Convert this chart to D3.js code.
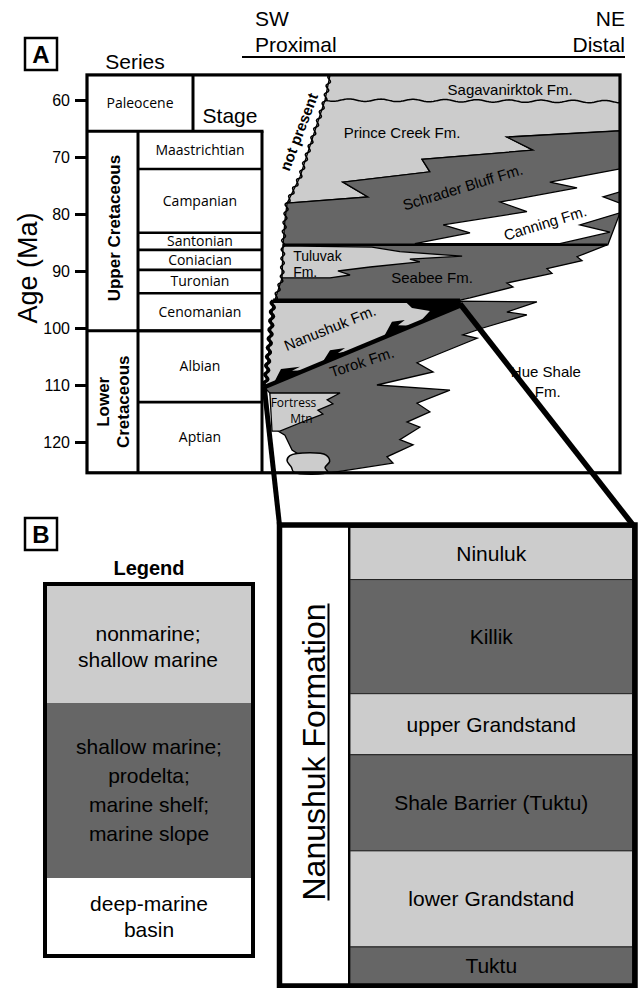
<!DOCTYPE html>
<html><head><meta charset="utf-8">
<script src="https://cdn.jsdelivr.net/npm/d3@7"></script>
<style>
body{margin:0;background:#fff}
svg{display:block}
text{font-family:"Liberation Sans",Arial,Helvetica,sans-serif;fill:#000}
.hum{font-family:"Open Sans","Noto Sans",sans-serif}
</style>
</head><body>
<svg id="c" width="644" height="988"></svg>
<script>
// ---------------- DATA ----------------
const ageTicks = [60, 70, 80, 90, 100, 110, 120];
const chartTopAge = 55.6, chartBaseAge = 125.4;

const seriesNames = ["Paleocene", "Upper Cretaceous", "Lower Cretaceous"];
const seriesTop   = [55.6, 65.5, 100.5];
const seriesBase  = [65.5, 100.5, 125.4];

const stageNames = ["Maastrichtian","Campanian","Santonian","Coniacian","Turonian","Cenomanian","Albian","Aptian"];
const stageTop   = [65.5, 72.1, 83.3, 86.3, 89.8, 93.9, 100.5, 113.0];
const stageBase  = [72.1, 83.3, 86.3, 89.8, 93.9, 100.5, 113.0, 125.4];

// formation outlines: [relative distance SW->NE (0-100), age Ma]
const unconformityEdge = [[19.0,55.6],[17.6,60],[14.2,66.5],[10.6,73.5],[7.0,78.1],[6.4,81.1],[5.9,85.4],[5.6,91.2],[3.6,95.1]];
const nanushukEdge = [[3.1,95.2],[2.2,102.1],[1.1,109.3],[0.6,110.4]];
const sagavanirktokBase = [[17.6,60],[100,60.3]];
const sagavanirktokPrinceCreek = [[19.0,55.6],[100,55.6],[100,65.4],[68.4,66.5],[75.7,68.8],[44.7,70.4],[46.9,72.6],[22.6,74.4],[29.6,77.0],[7.0,78.1],[10.6,73.5],[14.2,66.5],[17.6,60]];
const schraderBluff = [[7.0,78.1],[29.6,77.0],[22.6,74.4],[46.9,72.6],[44.7,70.4],[75.7,68.8],[68.4,66.5],[100,65.4],[100,79.8],[96.6,85.4],[5.9,85.4],[6.4,81.1]];
const canning = [[100,72.1],[80.4,74.4],[88.0,75.4],[66.5,77.9],[74.0,79.6],[50.6,81.9],[58.1,83.3],[42.7,85.2],[83.2,85.2],[97.2,83.2],[88.8,81.9],[100,79.8],[100,78.1],[95.3,77.0],[100,76.1]];
const seabee = [[5.9,85.4],[96.4,85.4],[88.0,87.5],[89.4,88.2],[79.6,89.6],[81.0,90.4],[68.4,92.1],[70.1,92.8],[58.1,94.7],[55.3,95.1],[3.6,95.1],[5.6,91.2]];
const tuluvak = [[5.9,85.6],[30.7,85.8],[38.5,86.6],[55.9,87.4],[41.3,87.9],[44.1,88.4],[30.2,89.3],[21.2,90.0],[24.6,90.7],[19.0,91.2],[5.6,91.2]];
const torok = [[0.6,110.4],[55.3,96.1],[55.3,95.3],[76.8,95.4],[68.4,97.2],[74.0,97.7],[61.7,100],[56.1,101.2],[60.1,101.8],[43.3,106.1],[47.8,107.7],[32.1,110],[52.5,110.9],[43.3,113.2],[46.9,114.7],[40.5,116.5],[44.1,117.4],[38.5,119.6],[42.2,120.5],[34.9,122.6],[36.6,123.7],[19.0,125.4],[10.6,125.4],[10.6,122.3],[8.4,121.4],[6.4,118.8],[4.5,118.1],[2.2,111.4]];
const nanushuk = [[3.1,95.2],[55.3,95.2],[55.3,96.1],[0.6,110.4],[1.1,109.3],[2.2,102.1]];
const nanushukTeeth = [
  [[3.4,109.5],[5.3,107.2],[10.6,106.8],[8.4,107.5],[12.3,107.4]],
  [[16.8,106.1],[19.0,103.9],[23.2,103.5],[21.2,104.4],[25.1,104.0]],
  [[33.8,101.8],[36.3,98.9],[39.9,98.6],[38.0,99.5],[41.9,99.6]],
  [[39.9,95.3],[55.3,95.3],[55.3,96.1],[44.1,98.9],[46.9,97.0],[41.9,96.5]]
];
const fortressMtn = [[2.2,111.4],[21.8,111.4],[18.2,112.6],[19.8,113.3],[15.6,114.4],[17.0,115.1],[12.8,116.1],[5.0,118.1],[2.8,118.1]];
const basalSand = [[7.8,122.4],[13.4,121.9],[17.9,122.3],[18.9,123.4],[17.6,124.5],[18.4,125.3],[8.9,125.3],[8.2,124.4],[7.0,123.3]];
const schraderBase = [[5.9,85.4],[96.4,85.4]];
const nanushukTop = [[3.1,95.2],[55.3,95.2]];
const nanushukBase = [[0.6,110.4],[55.3,96.1]];

const formationLabels = [
  {t:"Sagavanirktok Fm.", d:69.3, a:58.2, r:0},
  {t:"Prince Creek Fm.", d:39.1, a:65.8, r:0},
  {t:"Schrader Bluff Fm.", d:56.1, a:75.3, r:-17},
  {t:"Canning Fm.", d:79.1, a:81.6, r:-17},
  {t:"Seabee Fm.", d:47.5, a:91.1, r:0},
  {t:"Nanushuk Fm.", d:19.0, a:100.0, r:-22},
  {t:"Torok Fm.", d:27.9, a:106.0, r:-18},
  {t:"Hue Shale", d:79.3, a:107.7, r:0},
  {t:"Fm.", d:79.8, a:111.2, r:0}
];
const tuluvakLabel = ["Tuluvak","Fm."];
const fortressLabel = ["Fortress","Mtn"];

// Panel B
const legendLabels = [["nonmarine;","shallow marine"],["shallow marine;","prodelta;","marine shelf;","marine slope"],["deep-marine","basin"]];
const legendFacies = ["nonmarine","marine","deep"];
const nanushukUnits = ["Ninuluk","Killik","upper Grandstand","Shale Barrier (Tuktu)","lower Grandstand","Tuktu"];
const unitFacies = ["nonmarine","marine","nonmarine","marine","nonmarine","marine"];
const unitRelThickness = [52,114,61,96,96,38];

// ---------------- STYLE / LAYOUT ----------------
const faciesColor = {nonmarine:"#cccccc", marine:"#666666", deep:"#ffffff"};
const colSeriesL = 87, colSeriesR = 138, paleoR = 193, colStageR = 262, chartR = 620;
const legendBox = {x:45, y:584, w:208, h:372, parts:[119,175,78]};
const unitBox = {x:279.5, y:525, w:355.5, h:461, divider:349};

const svg = d3.select("#c");
const x = d3.scaleLinear().domain([0,100]).range([colStageR, chartR]);
const y = d3.scaleLinear().domain([60,120]).range([100,442]);
const line = d3.line().x(d=>x(d[0])).y(d=>y(d[1]));
const poly = p => line(p) + "Z";
const px = p => p.map(d=>[x(d[0]), y(d[1])]);

function wavy(pts, amp, wl){
  const out=[]; let s=0;
  for(let i=0;i<pts.length-1;i++){
    const [x0,y0]=pts[i],[x1,y1]=pts[i+1];
    const L=Math.hypot(x1-x0,y1-y0), nx=-(y1-y0)/L, ny=(x1-x0)/L;
    const n=Math.max(1,Math.ceil(L));
    for(let k=0;k<n;k++){
      const t=k/n, o=amp*Math.sin(2*Math.PI*(s+t*L)/wl);
      out.push([x0+(x1-x0)*t+nx*o, y0+(y1-y0)*t+ny*o]);
    }
    s+=L;
  }
  out.push(pts[pts.length-1]);
  return d3.line()(out);
}

// ---------- formations ----------
const g = svg.append("g");
const fills = [
  [sagavanirktokPrinceCreek, faciesColor.nonmarine],
  [schraderBluff, faciesColor.marine],
  [canning, faciesColor.deep],
  [seabee, faciesColor.marine],
  [tuluvak, faciesColor.nonmarine],
  [torok, faciesColor.marine],
  [nanushuk, faciesColor.nonmarine],
  [fortressMtn, faciesColor.nonmarine]
];
fills.forEach(([p,c])=>g.append("path").attr("d",poly(p)).attr("fill",c).attr("stroke","#000").attr("stroke-width",1.3).attr("stroke-linejoin","miter"));
g.append("path").attr("d", d3.line().x(d=>x(d[0])).y(d=>y(d[1])).curve(d3.curveCatmullRomClosed)(basalSand))
  .attr("fill",faciesColor.nonmarine).attr("stroke","#000").attr("stroke-width",1.5);
nanushukTeeth.forEach(p=>g.append("path").attr("d",poly(p)).attr("fill","#000"));

g.append("path").attr("d",wavy(px(sagavanirktokBase),1.2,32)).attr("fill","none").attr("stroke","#000").attr("stroke-width",1.5);
g.append("path").attr("d",wavy(px(unconformityEdge),1.8,9)).attr("fill","none").attr("stroke","#000").attr("stroke-width",1.5);
g.append("path").attr("d",wavy(px(nanushukEdge),1.8,9)).attr("fill","none").attr("stroke","#000").attr("stroke-width",3.2);

g.append("path").attr("d",line(schraderBase)).attr("stroke","#000").attr("stroke-width",2.6).attr("fill","none");
g.append("path").attr("d",line(nanushukTop)).attr("stroke","#000").attr("stroke-width",4.5).attr("fill","none");
g.append("path").attr("d",line(nanushukBase)).attr("stroke","#000").attr("stroke-width",4.5).attr("fill","none");

// labels
formationLabels.forEach(l=>{
  g.append("text").attr("transform",`translate(${x(l.d)},${y(l.a)}) rotate(${l.r})`)
   .attr("text-anchor","middle").attr("dy","0.35em").attr("font-size",15).text(l.t);
});
tuluvakLabel.forEach((t,i)=>g.append("text").attr("x",x(8.7)).attr("y",y(87.4+i*2.8)).attr("dy","0.35em").attr("font-size",14).text(t));
fortressLabel.forEach((t,i)=>g.append("text").attr("class","hum").attr("x",x(8.8+i*2.2)).attr("y",y(113.2+i*2.7)).attr("dy","0.35em").attr("text-anchor","middle").attr("font-size",12).text(t));
g.append("text").attr("transform",`translate(${x(10.3)},${y(65.6)}) rotate(-69)`).attr("text-anchor","middle").attr("dy","0.35em")
  .attr("font-size",15).attr("font-weight","bold").text("not present");

// ---------- columns ----------
const cols = svg.append("g");
const yT = y(chartTopAge), yB = y(chartBaseAge);
cols.append("text").attr("class","hum").attr("x",(colSeriesL+paleoR)/2).attr("y",(y(seriesTop[0])+y(seriesBase[0]))/2).attr("dy","0.35em")
  .attr("text-anchor","middle").attr("font-size",14).text(seriesNames[0]);
const sx = (colSeriesL+colSeriesR)/2;
cols.append("text").attr("transform",`translate(${sx+7},${(y(seriesTop[1])+y(seriesBase[1]))/2-3}) rotate(-90)`)
  .attr("text-anchor","middle").attr("font-size",17).attr("font-weight","bold").text(seriesNames[1]);
const lc = seriesNames[2].split(" ");
lc.forEach((t,i)=>cols.append("text").attr("transform",`translate(${sx-4+i*20},${(y(seriesTop[2])+y(seriesBase[2]))/2}) rotate(-90)`)
  .attr("text-anchor","middle").attr("font-size",17).attr("font-weight","bold").text(t));
stageNames.forEach((s,i)=>{
  cols.append("text").attr("class","hum").attr("x",(colSeriesR+colStageR)/2).attr("y",(y(stageTop[i])+y(stageBase[i]))/2)
    .attr("dy","0.35em").attr("text-anchor","middle").attr("font-size",14).text(s);
});
const L = (x1,y1,x2,y2,w)=>cols.append("line").attr("x1",x1).attr("y1",y1).attr("x2",x2).attr("y2",y2).attr("stroke","#000").attr("stroke-width",w);
L(paleoR,yT,paleoR,y(seriesBase[0]),3);
L(colSeriesL,y(seriesBase[0]),colStageR+1.5,y(seriesBase[0]),3);
L(colSeriesR,y(seriesBase[0]),colSeriesR,yB,3);
L(colStageR,y(seriesBase[0]),colStageR,yB,3);
L(colSeriesL,y(seriesBase[1]),colStageR,y(seriesBase[1]),3);
stageBase.slice(0,-1).forEach(b=>L(colSeriesR,y(b),colStageR,y(b),2.6));
cols.append("rect").attr("x",colSeriesL).attr("y",yT).attr("width",chartR-colSeriesL).attr("height",yB-yT)
  .attr("fill","none").attr("stroke","#000").attr("stroke-width",3.2);

// axis
const ax = svg.append("g").attr("transform",`translate(${colSeriesL},0)`)
  .call(d3.axisLeft(y).tickValues(ageTicks).tickSize(12).tickPadding(5));
ax.select(".domain").remove();
ax.selectAll(".tick line").attr("stroke","#000").attr("stroke-width",3);
ax.selectAll(".tick text").attr("font-size",16).attr("font-family","Liberation Sans, Arial, sans-serif").attr("fill","#000");

svg.append("text").attr("transform","translate(37,268) rotate(-90)").attr("text-anchor","middle").attr("font-size",27).text("Age (Ma)");
svg.append("text").attr("x",135).attr("y",69).attr("text-anchor","middle").attr("font-size",21).text("Series");
svg.append("text").attr("x",230).attr("y",123).attr("text-anchor","middle").attr("font-size",21).text("Stage");
svg.append("text").attr("x",255).attr("y",26).attr("font-size",21).text("SW");
svg.append("text").attr("x",255).attr("y",52).attr("font-size",21).text("Proximal");
svg.append("text").attr("x",625).attr("y",26).attr("text-anchor","end").attr("font-size",21).text("NE");
svg.append("text").attr("x",625).attr("y",52).attr("text-anchor","end").attr("font-size",21).text("Distal");
svg.append("line").attr("x1",242).attr("x2",625).attr("y1",57).attr("y2",57).attr("stroke","#000").attr("stroke-width",2);

function panelTag(t,x0,y0){
  svg.append("rect").attr("x",x0).attr("y",y0).attr("width",32).attr("height",32).attr("fill","#fff").attr("stroke","#000").attr("stroke-width",2.5);
  svg.append("text").attr("x",x0+16).attr("y",y0+16).attr("dy","0.36em").attr("text-anchor","middle").attr("font-size",24).attr("font-weight","bold").text(t);
}
panelTag("A",25,38);
panelTag("B",25,518);

// ---------- connectors ----------
svg.append("line").attr("x1",x(nanushukBase[0][0])).attr("y1",y(nanushukBase[0][1])-1).attr("x2",unitBox.x).attr("y2",unitBox.y)
  .attr("stroke","#000").attr("stroke-width",5);
svg.append("line").attr("x1",x(nanushukBase[1][0])).attr("y1",y(nanushukBase[1][1])-2).attr("x2",unitBox.x+unitBox.w-2).attr("y2",unitBox.y)
  .attr("stroke","#000").attr("stroke-width",5.5);

// ---------- legend ----------
svg.append("text").attr("x",legendBox.x+legendBox.w/2).attr("y",575).attr("text-anchor","middle").attr("font-size",20).attr("font-weight","bold").text("Legend");
let ly = legendBox.y;
legendLabels.forEach((lab,i)=>{
  const h = legendBox.parts[i];
  svg.append("rect").attr("x",legendBox.x).attr("y",ly).attr("width",legendBox.w).attr("height",h).attr("fill",faciesColor[legendFacies[i]]);
  const lh = lab.length>2 ? 29 : 26;
  const cy = ly + h/2 + (i===0?3:0);
  lab.forEach((t,k)=>svg.append("text").attr("x",legendBox.x+legendBox.w/2+(i===0?-1:0)).attr("y",cy+(k-(lab.length-1)/2)*lh).attr("dy","0.35em")
    .attr("text-anchor","middle").attr("font-size",21).text(t));
  ly += h;
});
svg.append("rect").attr("x",legendBox.x).attr("y",legendBox.y).attr("width",legendBox.w).attr("height",legendBox.h)
  .attr("fill","none").attr("stroke","#000").attr("stroke-width",4);

// ---------- Nanushuk units ----------
const cum = [0]; unitRelThickness.forEach(t=>cum.push(cum[cum.length-1]+t));
const uy = d3.scaleLinear().domain([0,cum[cum.length-1]]).range([unitBox.y+2.5, unitBox.y+unitBox.h-1]);
const ux0 = unitBox.divider+1, ux1 = unitBox.x+unitBox.w-2.5;
svg.append("rect").attr("x",unitBox.x).attr("y",unitBox.y).attr("width",unitBox.divider-unitBox.x).attr("height",unitBox.h).attr("fill","#fff");
nanushukUnits.forEach((u,i)=>{
  svg.append("rect").attr("x",ux0).attr("y",uy(cum[i])).attr("width",ux1-ux0).attr("height",uy(cum[i+1])-uy(cum[i]))
    .attr("fill",faciesColor[unitFacies[i]]).attr("stroke","#222").attr("stroke-width",1);
  svg.append("text").attr("x",(ux0+ux1)/2).attr("y",(uy(cum[i])+uy(cum[i+1]))/2).attr("dy","0.35em")
    .attr("text-anchor","middle").attr("font-size",21).text(u);
});
svg.append("line").attr("x1",unitBox.divider).attr("x2",unitBox.divider).attr("y1",unitBox.y).attr("y2",unitBox.y+unitBox.h).attr("stroke","#000").attr("stroke-width",2);
svg.append("rect").attr("x",unitBox.x).attr("y",unitBox.y).attr("width",unitBox.w).attr("height",unitBox.h)
  .attr("fill","none").attr("stroke","#000").attr("stroke-width",5.5);
const nf = svg.append("text").attr("transform",`translate(325,752) rotate(-90)`).attr("text-anchor","middle").attr("font-size",32).text("Nanushuk Formation");
const len = nf.node().getComputedTextLength();
svg.append("line").attr("x1",328.5).attr("x2",328.5).attr("y1",752-len/2).attr("y2",752+len/2).attr("stroke","#000").attr("stroke-width",2);
</script>
</body></html>
